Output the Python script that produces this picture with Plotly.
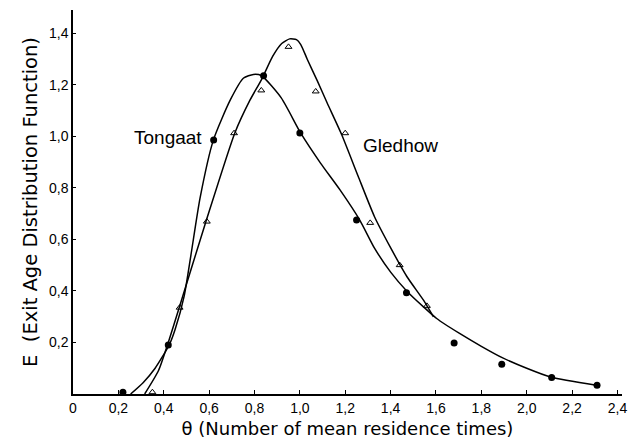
import plotly.graph_objects as go

# Measured data points
tongaat_theta = [0.22, 0.42, 0.62, 0.84, 1.00, 1.25, 1.47, 1.68, 1.89, 2.11, 2.31]
tongaat_E = [0.007, 0.19, 0.986, 1.235, 1.013, 0.675, 0.393, 0.198, 0.115, 0.064, 0.034]

gledhow_theta = [0.35, 0.47, 0.59, 0.71, 0.83, 0.95, 1.07, 1.20, 1.31, 1.44, 1.56]
gledhow_E = [0.007, 0.335, 0.669, 1.012, 1.178, 1.347, 1.174, 1.012, 0.664, 0.50, 0.342]

# Fitted curves
tongaat_curve_theta = [0.254, 0.31, 0.362, 0.424, 0.45, 0.49, 0.52, 0.56, 0.619, 0.694,
                       0.752, 0.795, 0.831, 0.918, 1.004, 1.091, 1.177, 1.264, 1.329, 1.401,
                       1.473, 1.545, 1.603, 1.704, 1.80, 1.892, 2.0, 2.108, 2.307]
tongaat_curve_E = [0.0, 0.045, 0.10, 0.19, 0.25, 0.38, 0.54, 0.76, 0.986, 1.142,
                   1.226, 1.24, 1.235, 1.149, 1.012, 0.896, 0.792, 0.675, 0.566, 0.472,
                   0.398, 0.338, 0.293, 0.235, 0.185, 0.141, 0.10, 0.065, 0.034]

gledhow_curve_theta = [0.316, 0.377, 0.42, 0.468, 0.586, 0.713, 0.78, 0.831, 0.88, 0.92,
                       0.955, 0.985, 1.004, 1.033, 1.077, 1.12, 1.185, 1.257, 1.329, 1.401,
                       1.473, 1.545, 1.589]
gledhow_curve_E = [0.0, 0.091, 0.20, 0.335, 0.669, 1.012, 1.14, 1.22, 1.31, 1.36,
                   1.378, 1.375, 1.356, 1.298, 1.215, 1.13, 1.005, 0.845, 0.688, 0.566,
                   0.454, 0.364, 0.299]

x_tickvals = [0, 0.2, 0.4, 0.6, 0.8, 1.0, 1.2, 1.4, 1.6, 1.8, 2.0, 2.2, 2.4]
x_ticktext = ["0", "0,2", "0,4", "0,6", "0,8", "1,0", "1,2", "1,4", "1,6", "1,8", "2,0", "2,2", "2,4"]
y_tickvals = [0.2, 0.4, 0.6, 0.8, 1.0, 1.2, 1.4]
y_ticktext = ["0,2", "0,4", "0,6", "0,8", "1,0", "1,2", "1,4"]

FONT = "Liberation Sans, Arial, sans-serif"
WIDE = "DejaVu Sans, sans-serif"

fig = go.Figure()
fig.add_trace(go.Scatter(x=tongaat_curve_theta, y=tongaat_curve_E, mode="lines",
                         line=dict(color="black", width=1.5, shape="spline", smoothing=0.6),
                         hoverinfo="skip", showlegend=False))
fig.add_trace(go.Scatter(x=gledhow_curve_theta, y=gledhow_curve_E, mode="lines",
                         line=dict(color="black", width=1.5, shape="spline", smoothing=0.6),
                         hoverinfo="skip", showlegend=False))
fig.add_trace(go.Scatter(x=tongaat_theta, y=tongaat_E, mode="markers", name="Tongaat",
                         marker=dict(symbol="circle", size=7, color="black"), showlegend=False))
fig.add_trace(go.Scatter(x=gledhow_theta, y=gledhow_E, mode="markers", name="Gledhow",
                         marker=dict(symbol="triangle-up-open", size=6, color="black",
                                     line=dict(width=1)), showlegend=False))

fig.add_annotation(x=0.418, y=0.994, text="Tongaat", showarrow=False,
                   font=dict(family=FONT, size=19, color="black"))
fig.add_annotation(x=1.444, y=0.964, text="Gledhow", showarrow=False,
                   font=dict(family=FONT, size=19, color="black"))

fig.update_layout(
    width=635, height=445,
    margin=dict(l=73, r=8, t=10, b=51),
    paper_bgcolor="white", plot_bgcolor="white",
    font=dict(family=FONT, color="black"),
)
fig.update_xaxes(range=[0, 2.42], tickvals=x_tickvals, ticktext=x_ticktext,
                 ticks="inside", ticklen=4, tickcolor="black", tickwidth=1,
                 showline=True, linecolor="black", linewidth=1.5,
                 showgrid=False, zeroline=False,
                 tickfont=dict(family=FONT, size=14, color="black"),
                 title=dict(text="θ (Number of mean residence times)",
                            font=dict(family=WIDE, size=18, color="black"), standoff=8))
fig.update_yaxes(range=[0, 1.49], tickvals=y_tickvals, ticktext=y_ticktext,
                 ticks="inside", ticklen=3, tickcolor="black", tickwidth=1,
                 showline=True, linecolor="black", linewidth=1.5,
                 showgrid=False, zeroline=False,
                 tickfont=dict(family=FONT, size=14, color="black"),
                 title=dict(text="E  (Exit Age Distribution Function)",
                            font=dict(family=WIDE, size=19.5, color="black"), standoff=6))

fig.write_html("out.html")
